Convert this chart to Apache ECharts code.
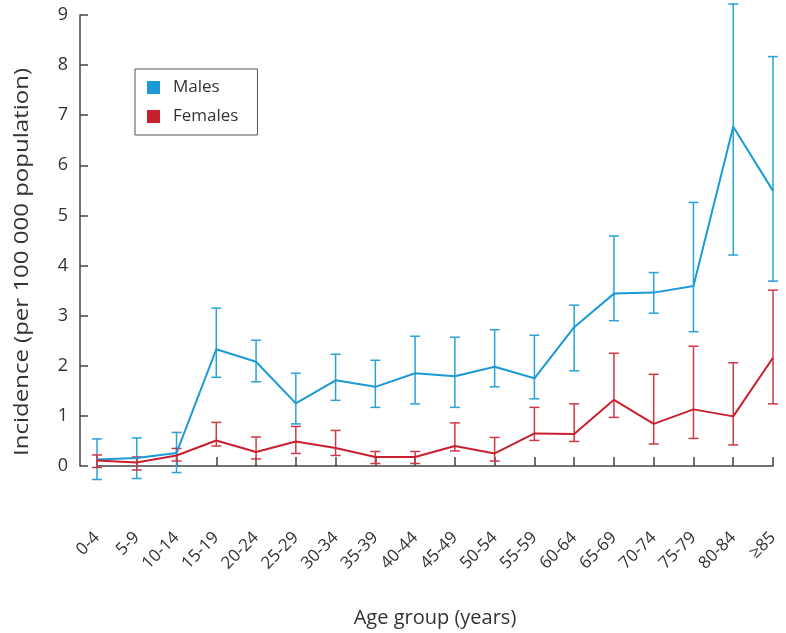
<!DOCTYPE html>
<html>
<head>
<meta charset="utf-8">
<script src="https://cdn.jsdelivr.net/npm/echarts@6/dist/echarts.min.js"></script>
<style>html,body{margin:0;padding:0;background:#fff}#c{width:786px;height:633px}</style>
</head>
<body>
<div id="c"></div>
<script>
var categories = ['0-4','5-9','10-14','15-19','20-24','25-29','30-34','35-39','40-44','45-49','50-54','55-59','60-64','65-69','70-74','75-79','80-84','≥85'];
var malesValue = [0.13,0.16,0.26,2.33,2.08,1.25,1.71,1.58,1.85,1.79,1.98,1.75,2.77,3.44,3.46,3.59,6.77,5.49];
var malesLow   = [-0.27,-0.25,-0.13,1.77,1.68,0.84,1.31,1.17,1.24,1.17,1.58,1.34,1.90,2.90,3.05,2.68,4.21,3.69];
var malesHigh  = [0.54,0.56,0.67,3.15,2.51,1.85,2.23,2.11,2.59,2.57,2.72,2.61,3.21,4.59,3.86,5.26,9.22,8.17];
var femalesValue = [0.11,0.07,0.21,0.51,0.28,0.49,0.36,0.18,0.18,0.40,0.25,0.65,0.64,1.32,0.84,1.13,0.99,2.16];
var femalesLow   = [-0.03,-0.08,0.10,0.40,0.14,0.25,0.21,0.05,0.05,0.30,0.10,0.51,0.49,0.97,0.44,0.55,0.42,1.24];
var femalesHigh  = [0.22,0.18,0.35,0.87,0.58,0.79,0.71,0.29,0.29,0.86,0.57,1.17,1.24,2.25,1.83,2.39,2.06,3.51];
var yTicks = [0,1,2,3,4,5,6,7,8,9];
var yAxisTitle = 'Incidence (per 100 000 population)';
var xAxisTitle = 'Age group (years)';

var BLUE = '#1b9ad6', RED = '#c8202f';
var FONT = 'Open Sans';

function errData(low, high) {
  return categories.map(function (c, i) { return [i, low[i], high[i]]; });
}
function errRender(color) {
  return function (params, api) {
    var x = api.value(0);
    var lo = api.coord([x, api.value(1)]);
    var hi = api.coord([x, api.value(2)]);
    var hw = 5;
    var st = { stroke: color, lineWidth: 1.5 };
    return {
      type: 'group',
      children: [
        { type: 'line', shape: { x1: lo[0], y1: lo[1], x2: hi[0], y2: hi[1] }, style: st },
        { type: 'line', shape: { x1: lo[0] - hw, y1: lo[1], x2: lo[0] + hw, y2: lo[1] }, style: st },
        { type: 'line', shape: { x1: hi[0] - hw, y1: hi[1], x2: hi[0] + hw, y2: hi[1] }, style: st }
      ]
    };
  };
}

var chart = echarts.init(document.getElementById('c'), null, { renderer: 'canvas' });
chart.setOption({
  animation: false,
  textStyle: { fontFamily: FONT },
  legend: {
    data: ['Males', 'Females'],
    orient: 'vertical',
    left: 135, top: 69,
    padding: [10, 19, 10, 12],
    itemWidth: 13, itemHeight: 13, itemGap: 12,
    icon: 'rect',
    borderColor: '#555', borderWidth: 1,
    textStyle: { fontSize: 17, color: '#333', fontFamily: FONT, padding: [0, 0, 0, 8] }
  },
  graphic: [{
    type: 'text',
    x: 22, y: 262,
    rotation: Math.PI / 2,
    scaleX: 1.2,
    style: { text: yAxisTitle, fontSize: 20, fontFamily: FONT, fill: '#333', align: 'center', verticalAlign: 'middle' }
  }],
  grid: { left: 97, right: 13, top: 15, bottom: 633 - 470, containLabel: false },
  xAxis: {
    type: 'category',
    data: categories,
    boundaryGap: false,
    offset: 53,
    name: xAxisTitle,
    nameLocation: 'middle',
    nameGap: 89,
    nameTextStyle: { fontSize: 20, color: '#333', fontFamily: FONT },
    axisLine: { lineStyle: { color: '#444', width: 1.5 } },
    axisTick: { inside: true, length: 9, alignWithLabel: true, lineStyle: { color: '#444', width: 1.5 } },
    axisLabel: { rotate: 45, fontSize: 17, color: '#333', margin: 16, interval: 0, fontFamily: FONT },
    splitLine: { show: false }
  },
  yAxis: {
    type: 'value',
    min: 0, max: 9, interval: 1,
    offset: 17,
    axisLine: { show: true, lineStyle: { color: '#444', width: 1.5 } },
    axisTick: { show: true, inside: true, length: 8, lineStyle: { color: '#444', width: 1.5 } },
    axisLabel: { fontSize: 18, color: '#333', margin: 12, fontFamily: FONT,
      formatter: function (v) { return yTicks.indexOf(v) >= 0 ? String(v) : ''; } },
    splitLine: { show: false }
  },
  series: [
    { name: 'Males', type: 'line', data: malesValue, symbol: 'none', color: BLUE, lineStyle: { color: BLUE, width: 2 }, z: 3 },
    { name: 'Females', type: 'line', data: femalesValue, symbol: 'none', color: RED, lineStyle: { color: RED, width: 2 }, z: 3 },
    { name: 'MalesErr', type: 'custom', data: errData(malesLow, malesHigh), renderItem: errRender('#2aa2d8'), clip: false, z: 2, encode: { x: 0, y: [1, 2] } },
    { name: 'FemalesErr', type: 'custom', data: errData(femalesLow, femalesHigh), renderItem: errRender('#cc3a46'), clip: false, z: 2, encode: { x: 0, y: [1, 2] } }
  ]
});
</script>
</body>
</html>
